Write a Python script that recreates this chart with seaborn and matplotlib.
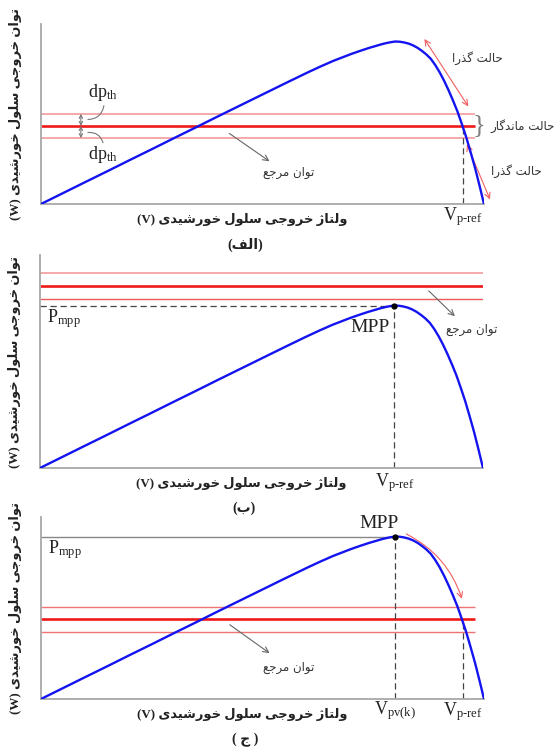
import matplotlib
matplotlib.use('Agg')
import matplotlib.pyplot as plt
import seaborn as sns
import pandas as pd

# PV curve (V in % of open-circuit voltage, P in % of Pmpp)
volt = [0, 5, 10, 15, 20, 25, 30, 35, 40, 45, 50, 55, 60, 63, 66, 68, 70, 72,
        74, 76, 77, 78, 79, 80, 81, 82, 83, 84, 85, 86, 87, 88, 89, 90, 91, 92,
        93, 94, 95, 96, 97, 98, 99, 100]
power = [0, 6.75, 13.5, 20.2, 27, 33.7, 40.5, 47.2, 54, 60.7, 67.4, 74.1, 80.7,
         84.5, 88.1, 90.2, 92.3, 94.2, 96.0, 97.6, 98.4, 99.05, 99.6, 100,
         99.85, 99.4, 98.7, 97.6, 96.1, 94.2, 92.0, 89.3, 85.5, 81, 75.8, 70,
         63.7, 57, 49.2, 41, 31.7, 22, 11.2, 0]

v_mpp = 80
p_mpp = 100
p_ref = [48, 112, 49]      # reference power per panel
dp_th = [7.5, 7.8, 7.7]    # band half-width per panel
v_ref = [95.2, 80, 95.2]   # Vp-ref per panel
v_pvk = 80

tags = ['الف', 'ب', 'ج']
xlab = 'ولتاژ خروجی سلول خورشیدی'
ylab = 'توان خروجی سلول خورشیدی'
ref_txt = 'توان مرجع'
trans_txt = 'حالت گذرا'
steady_txt = 'حالت ماندگار'

# --- minimal Persian shaping (matplotlib does no joining / bidi) ---
FORMS = {
    'ا': ('\uFE8D', '\uFE8E', None, None),
    'ب': ('\uFE8F', '\uFE90', '\uFE91', '\uFE92'),
    'ت': ('\uFE95', '\uFE96', '\uFE97', '\uFE98'),
    'ج': ('\uFE9D', '\uFE9E', '\uFE9F', '\uFEA0'),
    'ح': ('\uFEA1', '\uFEA2', '\uFEA3', '\uFEA4'),
    'خ': ('\uFEA5', '\uFEA6', '\uFEA7', '\uFEA8'),
    'د': ('\uFEA9', '\uFEAA', None, None),
    'ذ': ('\uFEAB', '\uFEAC', None, None),
    'ر': ('\uFEAD', '\uFEAE', None, None),
    'ز': ('\uFEAF', '\uFEB0', None, None),
    'ژ': ('\uFB8A', '\uFB8B', None, None),
    'س': ('\uFEB1', '\uFEB2', '\uFEB3', '\uFEB4'),
    'ش': ('\uFEB5', '\uFEB6', '\uFEB7', '\uFEB8'),
    'ع': ('\uFEC9', '\uFECA', '\uFECB', '\uFECC'),
    'ف': ('\uFED1', '\uFED2', '\uFED3', '\uFED4'),
    'گ': ('\uFB92', '\uFB93', '\uFB94', '\uFB95'),
    'ل': ('\uFEDD', '\uFEDE', '\uFEDF', '\uFEE0'),
    'م': ('\uFEE1', '\uFEE2', '\uFEE3', '\uFEE4'),
    'ن': ('\uFEE5', '\uFEE6', '\uFEE7', '\uFEE8'),
    'و': ('\uFEED', '\uFEEE', None, None),
    'ی': ('\uFEEF', '\uFEF0', '\uFEF3', '\uFEF4'),
}


def fa(s):
    out = []
    for i, ch in enumerate(s):
        if ch not in FORMS:
            out.append(ch)
            continue
        prev = s[i - 1] if i > 0 else ''
        nxt = s[i + 1] if i + 1 < len(s) else ''
        jp = prev in FORMS and FORMS[prev][2] is not None
        jn = FORMS[ch][2] is not None and nxt in FORMS
        iso, fin, ini, med = FORMS[ch]
        out.append(med if (jp and jn) else fin if jp else ini if jn else iso)
    return ''.join(reversed(out))


sns.set_style('white')
plt.rcParams['font.family'] = ['DejaVu Sans']
plt.rcParams['mathtext.fontset'] = 'custom'
plt.rcParams['mathtext.rm'] = 'Liberation Serif'
plt.rcParams['mathtext.it'] = 'Liberation Serif:italic'

df = pd.DataFrame({'V': volt, 'P': power})

W, H = 558, 749
fig = plt.figure(figsize=(W / 100, H / 100), dpi=100)

# panel boxes in pixels: left, top, right, bottom
boxes = [(41, 24, 484, 204), (40, 255, 483, 468), (41, 517, 484, 699)]
unit = 1.625  # px per % of Pmpp
axes = []
for (l, t, r, b) in boxes:
    ax = fig.add_axes([l / W, 1 - b / H, (r - l) / W, (b - t) / H])
    ax.set_xlim(0, 100)
    ax.set_ylim(0, (b - t) / unit)
    axes.append(ax)

mixed = ['Liberation Serif', 'DejaVu Sans']   # latin in serif, persian falls back
serif = dict(family='Liberation Serif', color='#222222')
small = dict(fontsize=8.5, color='#333333')
big = dict(fontsize=9.4, fontweight='bold', color='#222222', family=mixed)
gray_arrow = dict(arrowstyle='->', color='#666666', lw=0.8)
dash = (0, (5, 3))

for i, ax in enumerate(axes):
    sns.lineplot(data=df, x='V', y='P', ax=ax, color='#1414f0', lw=1.7,
                 sort=False, zorder=5)
    for s in ['top', 'right']:
        ax.spines[s].set_visible(False)
    for s in ['left', 'bottom']:
        ax.spines[s].set_color('#a8a8a8')
        ax.spines[s].set_linewidth(1.3)
    ax.set_xticks([])
    ax.set_yticks([])
    ax.set_xlabel('')
    ax.set_ylabel('(W) ' + fa(ylab), **big)
    ax.yaxis.set_label_coords(-0.043, 0.5)

    ax.text(45.4, -9.5, '(V) ' + fa(xlab), ha='center', va='center',
            clip_on=False, **big)
    tag = '( ' + fa(tags[i]) + ' )' if i == 2 else '(' + fa(tags[i]) + ')'
    ax.text(46, -25, tag, ha='center', va='center', clip_on=False,
            fontsize=10, fontweight='bold', color='#222222', family=mixed)

# ---- panel (الف)
ax = axes[0]
pr, d = p_ref[0], dp_th[0]
ax.hlines([pr + d, pr - d], 0, 98, color='#f5a3a3', lw=1.3)
ax.hlines(pr, 0, 98, color='#f01818', lw=1.9)
ax.vlines(v_ref[0], 0, pr, color='#444444', lw=0.9, ls=dash)
ax.text(v_ref[0], -7.5, r'$\mathrm{V_{p\text{-}ref}}$', ha='center',
        va='center', fontsize=13, clip_on=False, **serif)
red_arrow = dict(arrowstyle='<->', color='#f06060', lw=0.8)
ax.annotate('', xy=(86.2, 103), xytext=(96.8, 58.6), arrowprops=red_arrow,
            annotation_clip=False)
ax.annotate('', xy=(95.9, 38.3), xytext=(101.6, 1.2), arrowprops=red_arrow,
            annotation_clip=False)
ax.text(98.4, 89.5, fa(trans_txt), ha='center', va='center', clip_on=False, **small)
ax.text(107.2, 20.4, fa(trans_txt), ha='center', va='center', clip_on=False, **small)
ax.text(108.7, 48, fa(steady_txt), ha='center', va='center', clip_on=False, **small)
ax.text(98.9, 48.5, '}', ha='center', va='center', fontsize=19,
        family='Liberation Serif', color='#808080', clip_on=False)
ax.annotate('', xy=(52.1, 25.3), xytext=(42, 44.4), arrowprops=gray_arrow)
ax.text(55.8, 19.1, fa(ref_txt), ha='center', va='center', **small)
dd = dict(arrowstyle='<->', color='#777777', lw=0.8, mutation_scale=6,
          shrinkA=0, shrinkB=0)
ax.annotate('', xy=(9, pr + d), xytext=(9, pr), arrowprops=dd)
ax.annotate('', xy=(9, pr), xytext=(9, pr - d), arrowprops=dd)
lead = dict(arrowstyle='-', color='#777777', lw=0.8, shrinkA=0, shrinkB=0)
ax.annotate('', xy=(14.2, 60.5), xytext=(10.6, 52),
            arrowprops=dict(lead, connectionstyle='arc3,rad=0.4'))
ax.annotate('', xy=(14, 37.7), xytext=(10.6, 44),
            arrowprops=dict(lead, connectionstyle='arc3,rad=-0.4'))
ax.text(14, 68.5, r'$\mathrm{dp_{th}}$', ha='center', va='center', fontsize=13, **serif)
ax.text(14, 30.2, r'$\mathrm{dp_{th}}$', ha='center', va='center', fontsize=13, **serif)

# ---- panel (ب)
ax = axes[1]
pr, d = p_ref[1], dp_th[1]
ax.hlines(pr + d, 0, 100, color='#f5a3a3', lw=1.3)
ax.hlines(pr - d, 0, 100, color='#ec5a5a', lw=1.0)
ax.hlines(pr, 0, 100, color='#f01818', lw=1.9)
ax.hlines(p_mpp, 0, v_mpp, color='#444444', lw=0.9, ls=dash)
ax.vlines(v_mpp, 0, p_mpp, color='#444444', lw=0.9, ls=dash)
ax.plot([v_mpp], [p_mpp], 'o', color='black', ms=3.5, zorder=6)
ax.text(74.5, 86.4, 'MPP', ha='center', va='center', fontsize=14, **serif)
ax.text(1.5, 92, r'$\mathrm{P_{mpp}}$', ha='left', va='center', fontsize=13, **serif)
ax.annotate('', xy=(94.1, 92.2), xytext=(87.3, 110.2), arrowprops=gray_arrow)
ax.text(97.5, 85.3, fa(ref_txt), ha='center', va='center', clip_on=False, **small)
ax.text(v_ref[1], -9.2, r'$\mathrm{V_{p\text{-}ref}}$', ha='center',
        va='center', fontsize=13, clip_on=False, **serif)

# ---- panel (ج)
ax = axes[2]
pr, d = p_ref[2], dp_th[2]
ax.hlines([pr + d, pr - d], 0, 98, color='#f07272', lw=1.0)
ax.hlines(pr, 0, 98, color='#f01818', lw=1.9)
ax.hlines(p_mpp, 0, v_mpp, color='#888888', lw=1.0)
ax.vlines(v_pvk, 0, p_mpp, color='#444444', lw=0.9, ls=dash)
ax.vlines(v_ref[2], 0, pr, color='#444444', lw=0.9, ls=dash)
ax.plot([v_mpp], [p_mpp], 'o', color='black', ms=3.5, zorder=6)
ax.text(76.3, 107.8, 'MPP', ha='center', va='center', fontsize=14, **serif)
ax.text(1.5, 91.8, r'$\mathrm{P_{mpp}}$', ha='left', va='center', fontsize=13, **serif)
ax.annotate('', xy=(95.2, 60), xytext=(81.9, 102.3),
            arrowprops=dict(arrowstyle='->', color='#f06060', lw=0.8,
                            connectionstyle='arc3,rad=-0.22'))
ax.annotate('', xy=(52.1, 27.2), xytext=(42.1, 46.7), arrowprops=gray_arrow)
ax.text(55.8, 19.2, fa(ref_txt), ha='center', va='center', **small)
ax.text(v_pvk, -7.6, r'$\mathrm{V_{pv(k)}}$', ha='center', va='center',
        fontsize=13, clip_on=False, **serif)
ax.text(v_ref[2], -7.6, r'$\mathrm{V_{p\text{-}ref}}$', ha='center',
        va='center', fontsize=13, clip_on=False, **serif)

fig.savefig('out.png', dpi=100, facecolor='white')
